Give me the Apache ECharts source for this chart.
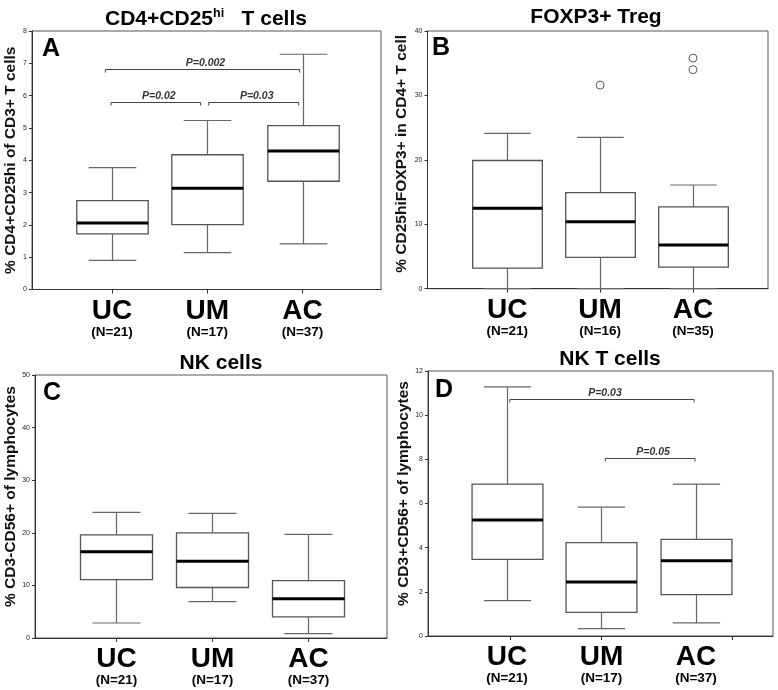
<!DOCTYPE html>
<html><head><meta charset="utf-8">
<script src="https://cdn.jsdelivr.net/npm/echarts@6/dist/echarts.min.js"></script>
<style>html,body{margin:0;padding:0;background:#fff}#c{width:778px;height:690px}</style>
</head><body><div id="c"></div>
<script>
const categories = ['UC', 'UM', 'AC'];
const nA = ['(N=21)', '(N=17)', '(N=37)'];
const nB = ['(N=21)', '(N=16)', '(N=35)'];
const nC = ['(N=21)', '(N=17)', '(N=37)'];
const nD = ['(N=21)', '(N=17)', '(N=37)'];

// [min, Q1, median, Q3, max] per category
const boxA = [[0.90, 1.72, 2.06, 2.75, 3.77], [1.14, 2.01, 3.13, 4.17, 5.23], [1.41, 3.35, 4.29, 5.07, 7.28]];
const boxB = [[0, 3.2, 12.5, 19.9, 24.1], [0, 4.85, 10.4, 14.9, 23.5], [0, 3.35, 6.8, 12.7, 16.1]];
const boxC = [[2.85, 11.1, 16.4, 19.6, 23.9], [6.9, 9.6, 14.6, 20.0, 23.7], [0.82, 4.0, 7.47, 10.9, 19.7]];
const boxD = [[1.6, 3.47, 5.25, 6.88, 11.28], [0.33, 1.07, 2.45, 4.23, 5.84], [0.59, 1.87, 3.41, 4.38, 6.88]];

// outliers [category position, value]
const outliersB = [[2, 31.6], [3, 35.8], [3, 34.0]];

// significance brackets [from, to, level]
const bracketsA = [[0.93, 2.97, 6.82], [0.99, 1.93, 5.79], [2.015, 2.96, 5.79]];
const bracketLabelsA = ['P=0.002', 'P=0.02', 'P=0.03'];
const bracketsD = [[1.03, 2.98, 10.72], [2.04, 2.99, 8.05]];
const bracketLabelsD = ['P=0.03', 'P=0.05'];

const titles = ['CD4+CD25', 'FOXP3+ Treg', 'NK cells', 'NK T cells'];
const letters = ['A', 'B', 'C', 'D'];
const yNames = ['% CD4+CD25hi of CD3+ T cells', '% CD25hiFOXP3+ in CD4+ T cell', '% CD3-CD56+ of lymphocytes', '% CD3+CD56+ of lymphocytes'];
const yMax = [8, 40, 50, 12];
const yInterval = [1, 10, 10, 2];
const catPos = [1, 2, 3];
const tickPosD = [1.03, 2, 3.38];

const FONT = '"Liberation Sans", Arial, sans-serif';
const BOX_W = 0.75, CAP_W = 0.5;

const grids = [
  {left: 32, top: 31, width: 349, height: 258.5},
  {left: 427.5, top: 31, width: 340.5, height: 257.7},
  {left: 35, top: 375, width: 352, height: 263},
  {left: 428, top: 371, width: 345, height: 265}
];
const xRange = [[0.160, 3.824], [0.141, 3.808], [0.151, 3.818], [0.164, 3.815]];
const nLists = [nA, nB, nC, nD];
const nameGaps = [13, 18, 16, 16];
const namePads = [[0, 0, 0, 0], [0, 0, 0, 12], [0, 0, 0, 20], [0, 0, 0, 20]];

function renderBox(params, api) {
  const x = api.value(0);
  const p = k => api.coord([x, api.value(k)]);
  const pMin = p(1), pQ1 = p(2), pMed = p(3), pQ3 = p(4), pMax = p(5);
  const bw = api.size([BOX_W, 0])[0] / 2;
  const cw = api.size([CAP_W, 0])[0] / 2;
  const cx = Math.round(pMed[0]) + 0.5;
  const ls = {stroke: '#666', lineWidth: 1.2};
  return {type: 'group', children: [
    {type: 'line', shape: {x1: cx, y1: pQ3[1], x2: cx, y2: pMax[1]}, style: ls},
    {type: 'line', shape: {x1: cx, y1: pMin[1], x2: cx, y2: pQ1[1]}, style: ls},
    {type: 'line', shape: {x1: cx - cw, y1: pMax[1], x2: cx + cw, y2: pMax[1]}, style: ls},
    {type: 'line', shape: {x1: cx - cw, y1: pMin[1], x2: cx + cw, y2: pMin[1]}, style: ls},
    {type: 'rect', shape: {x: cx - bw, y: pQ3[1], width: 2 * bw, height: pQ1[1] - pQ3[1]}, style: {fill: '#fff', stroke: '#555', lineWidth: 1.3}},
    {type: 'line', shape: {x1: cx - bw, y1: pMed[1], x2: cx + bw, y2: pMed[1]}, style: {stroke: '#000', lineWidth: 3}}
  ]};
}

function makeBracketRenderer(labels) {
  return function (params, api) {
    const a = api.coord([api.value(0), api.value(2)]);
    const b = api.coord([api.value(1), api.value(2)]);
    const y = Math.round(a[1]) + 0.5;
    return {type: 'group', children: [
      {type: 'polyline', shape: {points: [[a[0], y + 3], [a[0], y], [b[0], y], [b[0], y + 3]]}, style: {stroke: '#444', lineWidth: 1, fill: null}},
      {type: 'text', x: (a[0] + b[0]) / 2 + 3, y: y - 0.5, style: {text: labels[params.dataIndex], fill: '#333', font: 'italic bold 10.5px ' + FONT, textAlign: 'center', textVerticalAlign: 'bottom'}}
    ]};
  };
}

const xAxes = grids.map((g, i) => ({
  type: 'value', gridIndex: i, min: xRange[i][0], max: xRange[i][1],
  axisLine: {show: true, onZero: false, lineStyle: {color: '#333', width: 1}},
  axisTick: {show: true, customValues: i === 3 ? tickPosD : catPos, length: 4, lineStyle: {color: '#333'}},
  axisLabel: {
    customValues: catPos, margin: 8,
    formatter: v => { const k = Math.round(v) - 1; return '{c|' + categories[k] + '}\n{n|' + nLists[i][k] + '}'; },
    rich: {
      c: {fontSize: 28, fontWeight: 'bold', fontFamily: FONT, color: '#000', lineHeight: 27},
      n: {fontSize: 13.5, fontWeight: 'bold', fontFamily: FONT, color: '#000', lineHeight: 15}
    }
  },
  splitLine: {show: false}
}));

const yAxes = grids.map((g, i) => ({
  type: 'value', gridIndex: i, min: 0, max: yMax[i], interval: yInterval[i],
  axisLine: {show: true, onZero: false, lineStyle: {color: '#333', width: 1}},
  axisTick: {show: true, length: 3, lineStyle: {color: '#333'}},
  axisLabel: {fontSize: 7, color: '#222', margin: 5, fontFamily: FONT},
  splitLine: {show: false},
  name: yNames[i], nameLocation: 'middle', nameGap: nameGaps[i],
  nameTextStyle: {fontSize: 15.5, fontWeight: 'bold', color: '#111', fontFamily: FONT, padding: namePads[i]}
}));

const boxes = [boxA, boxB, boxC, boxD];
const series = boxes.map((bx, i) => ({
  type: 'custom', xAxisIndex: i, yAxisIndex: i, silent: true,
  renderItem: renderBox,
  encode: {x: 0, y: [1, 2, 3, 4, 5]},
  data: bx.map((b, k) => [catPos[k]].concat(b))
}));
series.push({
  type: 'scatter', xAxisIndex: 1, yAxisIndex: 1, silent: true,
  symbol: 'circle', symbolSize: 8,
  itemStyle: {color: '#fff', borderColor: '#333', borderWidth: 1},
  data: outliersB
});
series.push({
  type: 'custom', xAxisIndex: 0, yAxisIndex: 0, silent: true,
  renderItem: makeBracketRenderer(bracketLabelsA), encode: {x: [0, 1], y: 2}, data: bracketsA
});
series.push({
  type: 'custom', xAxisIndex: 3, yAxisIndex: 3, silent: true,
  renderItem: makeBracketRenderer(bracketLabelsD), encode: {x: [0, 1], y: 2}, data: bracketsD
});

const titlePos = [[206, 19], [596, 17.5], [221, 363.5], [610, 359]];
const letterPos = [[42, 49], [432, 48.5], [43, 393], [435, 390]];
const graphic = [];
titles.forEach((t, i) => {
  const txt = i === 0 ? '{m|' + t + '}{s|hi}{m|   T cells}' : '{m|' + t + '}';
  graphic.push({type: 'text', x: titlePos[i][0], y: titlePos[i][1], silent: true, style: {
    text: txt, textAlign: 'center', textVerticalAlign: 'middle',
    rich: {
      m: {fontSize: 21, fontWeight: 'bold', fontFamily: FONT, fill: '#000', lineHeight: 24},
      s: {fontSize: 12.5, fontWeight: 'bold', fontFamily: FONT, fill: '#000', lineHeight: 12, verticalAlign: 'top'}
    }
  }});
});
letters.forEach((t, i) => {
  graphic.push({type: 'text', x: letterPos[i][0], y: letterPos[i][1], silent: true, style: {
    text: t, font: 'bold 25px ' + FONT, fill: '#000', textAlign: 'left', textVerticalAlign: 'middle'
  }});
});

const chart = echarts.init(document.getElementById('c'), null, {renderer: 'canvas'});
chart.setOption({
  animation: false,
  backgroundColor: '#fff',
  grid: grids.map(g => Object.assign({show: true, borderColor: '#555', borderWidth: 1, backgroundColor: 'transparent'}, g)),
  xAxis: xAxes,
  yAxis: yAxes,
  series: series,
  graphic: graphic
});
</script></body></html>
